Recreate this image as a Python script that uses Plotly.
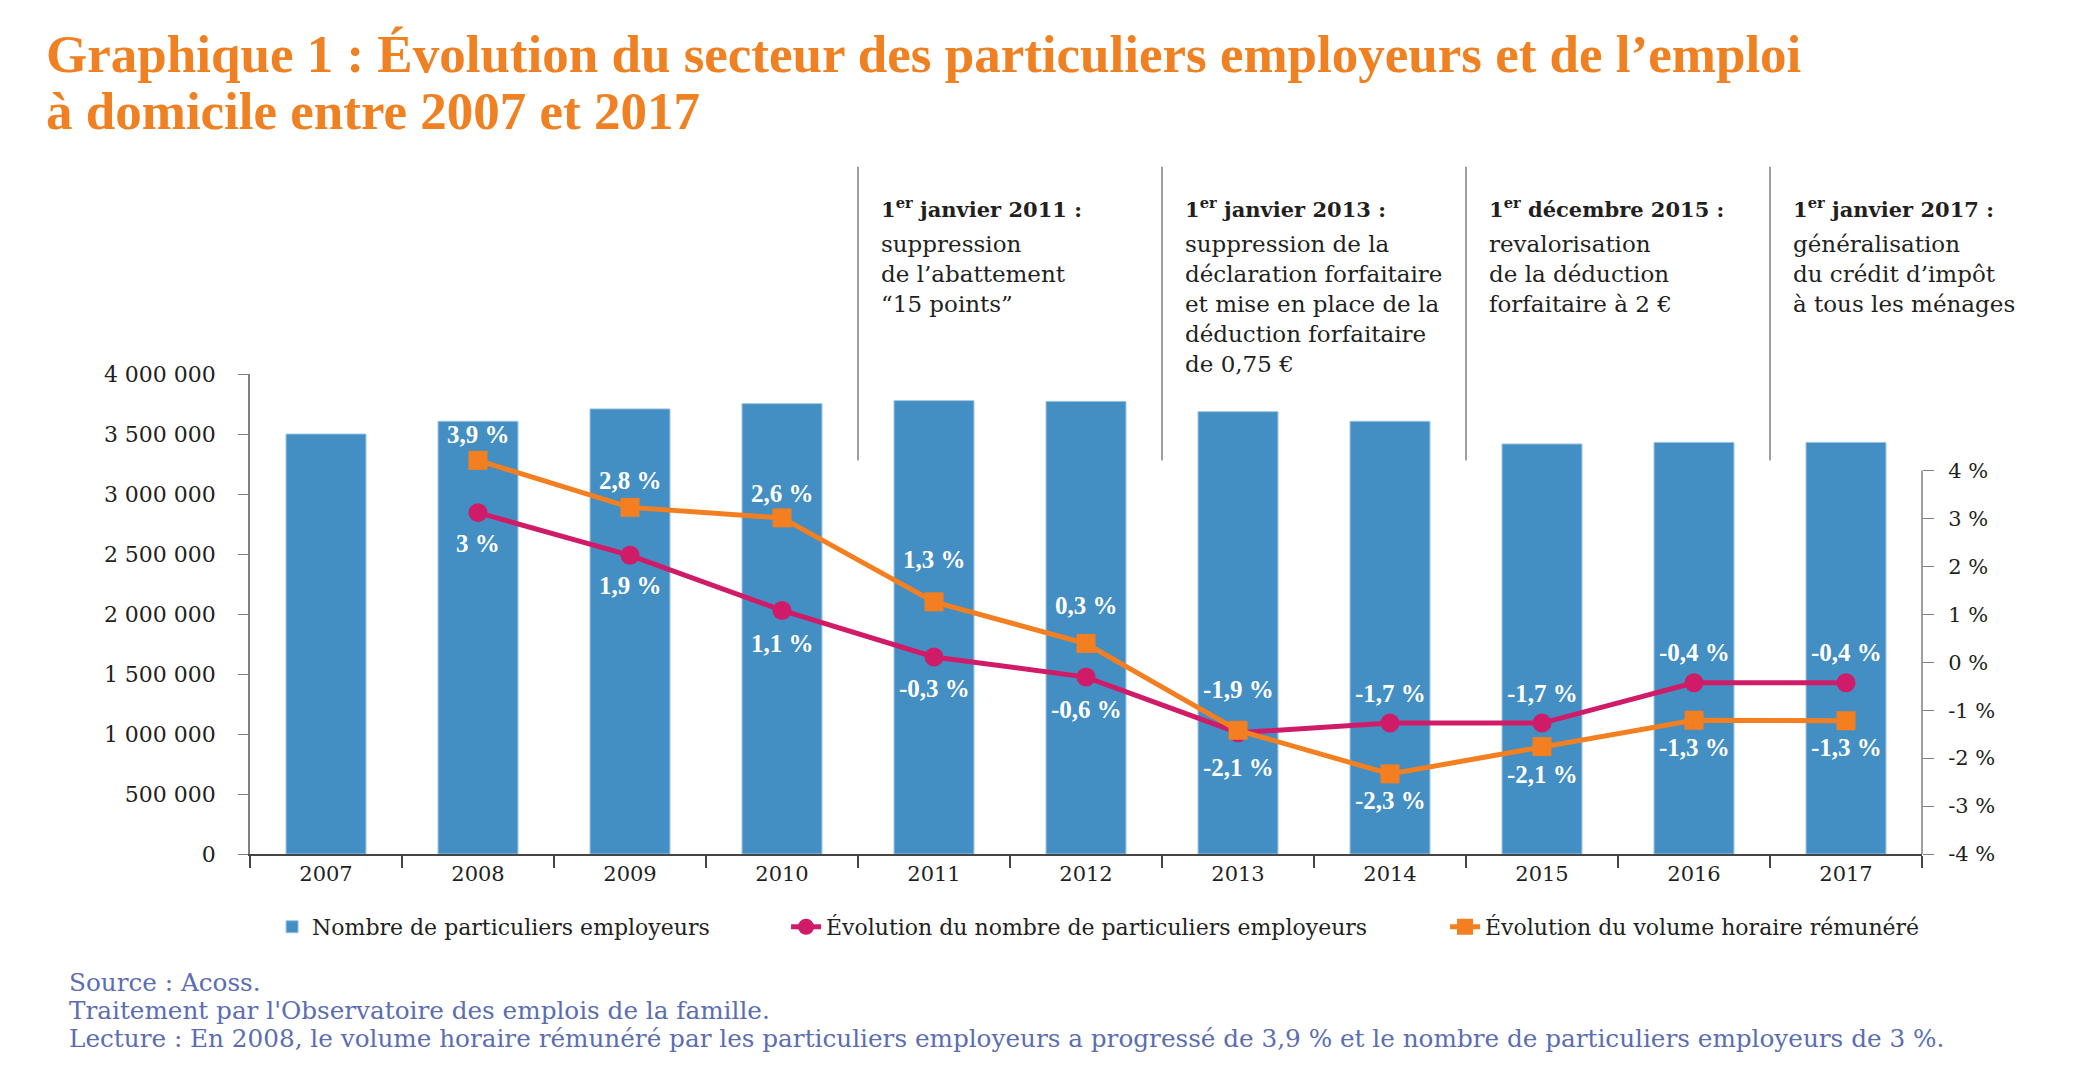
import plotly.graph_objects as go

# ---------------- data ----------------
years = ["2007", "2008", "2009", "2010", "2011", "2012", "2013", "2014", "2015", "2016", "2017"]
employers = [3500000, 3606000, 3709000, 3753000, 3778000, 3772000, 3686000, 3606000, 3417000, 3430000, 3430000]
evol_employers = [None, 3.12, 2.23, 1.08, 0.11, -0.31, -1.47, -1.27, -1.27, -0.43, -0.43]
evol_hours = [None, 4.21, 3.23, 3.01, 1.26, 0.39, -1.42, -2.33, -1.76, -1.21, -1.22]
labels_employers = ["", "3 %", "1,9 %", "1,1 %", "-0,3 %", "-0,6 %", "-1,9 %", "-1,7 %", "-1,7 %", "-0,4 %", "-0,4 %"]
labels_hours = ["", "3,9 %", "2,8 %", "2,6 %", "1,3 %", "0,3 %", "-2,1 %", "-2,3 %", "-2,1 %", "-1,3 %", "-1,3 %"]
left_tickvals = [0, 500000, 1000000, 1500000, 2000000, 2500000, 3000000, 3500000, 4000000]
left_ticktext = ["0", "500 000", "1 000 000", "1 500 000", "2 000 000", "2 500 000", "3 000 000", "3 500 000", "4 000 000"]
right_tickvals = [-4, -3, -2, -1, 0, 1, 2, 3, 4]
right_ticktext = ["-4 %", "-3 %", "-2 %", "-1 %", "0 %", "1 %", "2 %", "3 %", "4 %"]
event_titles = ["1<sup>er</sup> janvier 2011 :", "1<sup>er</sup> janvier 2013 :",
                "1<sup>er</sup> décembre 2015 :", "1<sup>er</sup> janvier 2017 :"]
event_texts = ["suppression<br>de l’abattement<br>“15 points”",
               "suppression de la<br>déclaration forfaitaire<br>et mise en place de la<br>déduction forfaitaire<br>de 0,75 €",
               "revalorisation<br>de la déduction<br>forfaitaire à 2 €",
               "généralisation<br>du crédit d’impôt<br>à tous les ménages"]
event_after = ["2010", "2012", "2014", "2016"]
title_lines = ["Graphique 1 : Évolution du secteur des particuliers employeurs et de l’emploi",
               "à domicile entre 2007 et 2017"]
source_lines = ["Source : Acoss.",
                "Traitement par l'Observatoire des emplois de la famille.",
                "Lecture : En 2008, le volume horaire rémunéré par les particuliers employeurs a progressé de 3,9 % et le nombre de particuliers employeurs de 3 %."]

# ---------------- style ----------------
BLUE = "#438EC2"
PINK = "#D01C68"
ORANGE = "#F47F20"
TITLE_C = "#F08122"
SRC_C = "#5B6DB3"
TXT = "#231F20"
AXIS_C = "#808080"
SERIF = "DejaVu Serif"
SERIF2 = "Liberation Serif"

# label offsets (px, + = up)
shift_hours = [0, 26, 27, 24, 42, 38, -37, -27, -28, -27, -27]
shift_employers = [0, -31, -30, -33, -32, -32, 43, 30, 30, 30, 30]

fig = go.Figure()
fig.add_trace(go.Bar(x=years, y=employers, name="Nombre de particuliers employeurs",
                     marker=dict(color=BLUE, line=dict(color="#9CC4E6", width=1)),
                     yaxis="y", legend="legend"))
fig.add_trace(go.Scatter(x=years, y=evol_employers, name="Évolution du nombre de particuliers employeurs",
                         mode="lines+markers", line=dict(color=PINK, width=5),
                         marker=dict(symbol="circle", size=19, color=PINK), yaxis="y2", cliponaxis=False,
                         legend="legend2"))
fig.add_trace(go.Scatter(x=years, y=evol_hours, name="Évolution du volume horaire rémunéré",
                         mode="lines+markers", line=dict(color=ORANGE, width=5),
                         marker=dict(symbol="square", size=19, color=ORANGE), yaxis="y2", cliponaxis=False,
                         legend="legend3"))

label_font = dict(family=SERIF2, size=25, color="white", weight="bold")
annotations = []
for i, yr in enumerate(years):
    if labels_hours[i]:
        annotations.append(dict(x=i, y=evol_hours[i], xref="x", yref="y2", text=labels_hours[i],
                                showarrow=False, yshift=shift_hours[i], font=label_font))
    if labels_employers[i]:
        annotations.append(dict(x=i, y=evol_employers[i], xref="x", yref="y2", text=labels_employers[i],
                                showarrow=False, yshift=shift_employers[i], font=label_font))

shapes = []
for k, yr in enumerate(event_after):
    xi = years.index(yr) + 0.5
    shapes.append(dict(type="line", xref="x", yref="paper", x0=xi, x1=xi, y0=0.82, y1=1.432,
                       line=dict(color="#7F7F7F", width=1.5)))
    annotations.append(dict(x=xi + 0.14, y=1.345, xref="x", yref="paper", text="<b>" + event_titles[k] + "</b>",
                            showarrow=False, xanchor="left", yanchor="middle", align="left",
                            font=dict(family=SERIF, size=21, color=TXT)))
    annotations.append(dict(x=xi + 0.14, y=1.302, xref="x", yref="paper", text=event_texts[k],
                            showarrow=False, xanchor="left", yanchor="top", align="left",
                            font=dict(family=SERIF, size=23, color=TXT)))

# right axis line only over the -4 % .. 4 % span
shapes.append(dict(type="line", xref="paper", yref="y2", x0=1, x1=1,
                   y0=right_tickvals[0], y1=right_tickvals[-1], line=dict(color=AXIS_C, width=1.5)))

# title lines
for j, (line, yp) in enumerate(zip(title_lines, [1.6677, 1.5489])):
    annotations.append(dict(x=-0.1232, y=yp, xref="paper", yref="paper", xanchor="left", yanchor="middle",
                            showarrow=False, text=line,
                            font=dict(family=SERIF2, size=53, color=TITLE_C, weight="bold")))

# source lines
for j, (line, yp) in enumerate(zip(source_lines, [-0.2668, -0.3252, -0.3836])):
    annotations.append(dict(x=-0.1094, y=yp, xref="paper", yref="paper", xanchor="left", yanchor="middle",
                            showarrow=False, text=line,
                            font=dict(family=SERIF, size=24.7, color=SRC_C)))

legend_common = dict(orientation="h", y=-0.152, xanchor="left", yanchor="middle",
                     font=dict(family=SERIF, size=22, color=TXT), bgcolor="rgba(0,0,0,0)")

fig.update_layout(
    width=2098, height=1087,
    margin=dict(l=250, r=176, t=374, b=233),
    paper_bgcolor="white", plot_bgcolor="rgba(0,0,0,0)",
    bargap=0.474,
    showlegend=True,
    legend=dict(x=0.0132, **legend_common),
    legend2=dict(x=0.3206, **legend_common),
    legend3=dict(x=0.7147, **legend_common),
    xaxis=dict(type="category", range=[-0.5, 10.5], showline=True, linecolor="#444444", linewidth=1.5,
               ticks="outside", tickson="boundaries", ticklen=12, tickcolor="#444444", tickwidth=1.5,
               tickfont=dict(family=SERIF, size=21, color=TXT), showgrid=False, zeroline=False),
    yaxis=dict(range=[0, 4000000], tickvals=left_tickvals, ticktext=left_ticktext, showline=True,
               linecolor=AXIS_C, linewidth=1.5, ticks="outside", ticklen=10, tickcolor=AXIS_C,
               tickfont=dict(family=SERIF, size=22, color=TXT), showgrid=False, zeroline=False,
               ticklabelstandoff=18),
    yaxis2=dict(domain=[0, 0.849], anchor="x", side="right", range=[-4, 4.5], tickvals=right_tickvals,
                ticktext=right_ticktext, showline=False, ticks="outside",
                ticklen=11, tickcolor=AXIS_C, tickfont=dict(family=SERIF, size=21, color=TXT),
                showgrid=False, zeroline=False, ticklabelstandoff=10),
    annotations=annotations,
    shapes=shapes,
)

fig.write_html("out.html")
